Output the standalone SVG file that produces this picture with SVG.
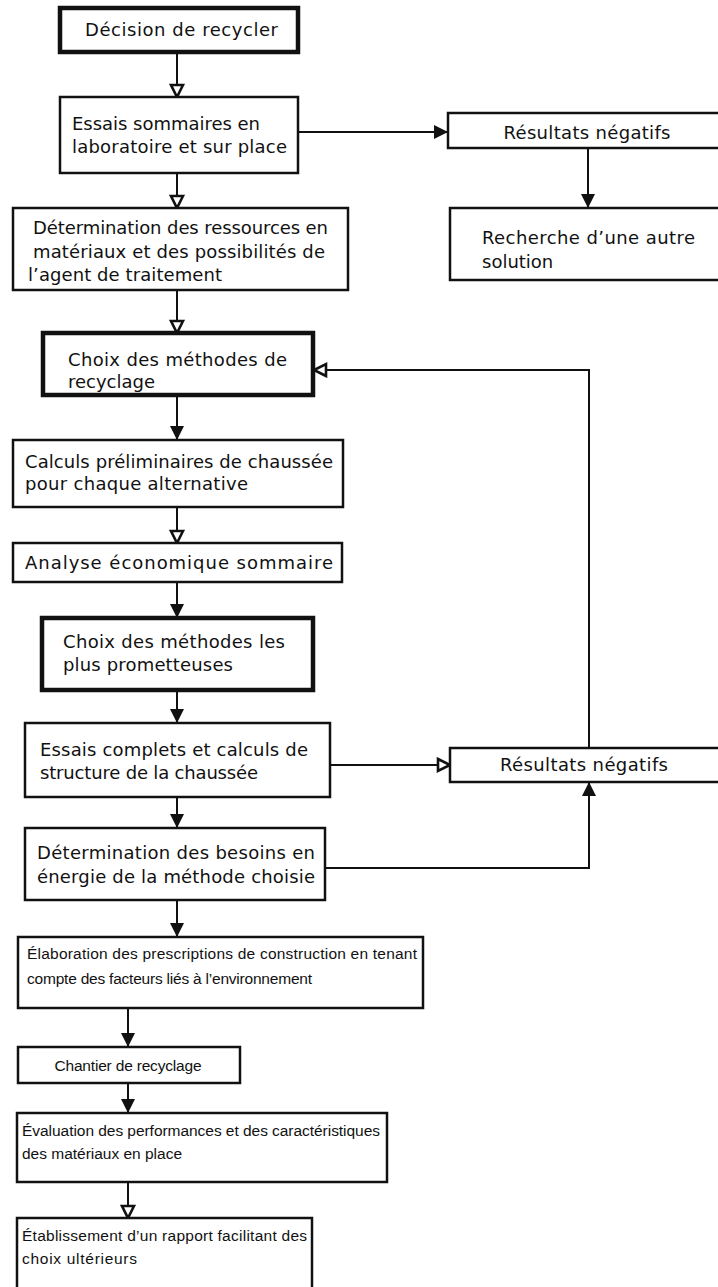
<svg xmlns="http://www.w3.org/2000/svg" width="718" height="1287" viewBox="0 0 718 1287">
<style>
.box{fill:#fff;stroke:#111;stroke-width:2.5}
.thick{fill:#fff;stroke:#111;stroke-width:4.5}
.t{font-family:"DejaVu Sans","Liberation Sans",sans-serif;font-size:18px;fill:#111}
.s{font-family:"Liberation Sans","DejaVu Sans",sans-serif;font-size:15.5px;fill:#111}
.c{text-anchor:middle}
.ln{fill:none;stroke:#111;stroke-width:2}
</style>
<defs>
<marker id="af" markerUnits="userSpaceOnUse" markerWidth="16" markerHeight="16" viewBox="0 0 16 16" refX="14" refY="7" orient="auto">
<path d="M0,0 L14,7 L0,14 Z" fill="#111"/>
</marker>
<marker id="ao" markerUnits="userSpaceOnUse" markerWidth="18" markerHeight="18" viewBox="-2 -2 18 18" refX="13" refY="7" orient="auto">
<path d="M1,1 L13,7 L1,13 Z" fill="#fff" stroke="#111" stroke-width="2.6" stroke-linejoin="miter"/>
</marker>
</defs>
<rect width="718" height="1287" fill="#fff"/>
<g id="connectors">
<line class="ln" x1="177" y1="52" x2="177" y2="97" marker-end="url(#ao)"/>
<line class="ln" x1="298" y1="132" x2="448" y2="132" marker-end="url(#af)"/>
<line class="ln" x1="588" y1="148" x2="588" y2="208" marker-end="url(#af)"/>
<line class="ln" x1="177" y1="173" x2="177" y2="208" marker-end="url(#ao)"/>
<line class="ln" x1="177" y1="290" x2="177" y2="333" marker-end="url(#ao)"/>
<polyline class="ln" points="589,748 589,370 314,370" marker-end="url(#ao)"/>
<line class="ln" x1="177" y1="395" x2="177" y2="440" marker-end="url(#af)"/>
<line class="ln" x1="177" y1="507" x2="177" y2="543" marker-end="url(#ao)"/>
<line class="ln" x1="177" y1="582" x2="177" y2="618" marker-end="url(#af)"/>
<line class="ln" x1="177" y1="690" x2="177" y2="723" marker-end="url(#af)"/>
<line class="ln" x1="330" y1="765" x2="450" y2="765" marker-end="url(#ao)"/>
<line class="ln" x1="177" y1="797" x2="177" y2="828" marker-end="url(#af)"/>
<polyline class="ln" points="325,868 589,868 589,782" marker-end="url(#af)"/>
<line class="ln" x1="177" y1="900" x2="177" y2="937" marker-end="url(#af)"/>
<line class="ln" x1="128" y1="1008" x2="128" y2="1047" marker-end="url(#af)"/>
<line class="ln" x1="128" y1="1083" x2="128" y2="1113" marker-end="url(#af)"/>
<line class="ln" x1="128" y1="1182" x2="128" y2="1218" marker-end="url(#ao)"/>
</g>
<g id="n1">
<rect class="thick" x="60" y="8" width="238" height="44"/>
<text class="t" x="85" y="36" textLength="193" lengthAdjust="spacing">Décision de recycler</text>
</g>
<g id="n2">
<rect class="box" x="60" y="97" width="238" height="76"/>
<text class="t" x="72" y="130" textLength="188" lengthAdjust="spacing">Essais sommaires en</text>
<text class="t" x="72" y="153" textLength="215" lengthAdjust="spacing">laboratoire et sur place</text>
</g>
<g id="r1">
<rect class="box" x="448" y="113" width="275" height="35"/>
<text class="t c" x="587" y="139" textLength="167" lengthAdjust="spacing">Résultats négatifs</text>
</g>
<g id="r1b">
<rect class="box" x="450" y="208" width="273" height="72"/>
<text class="t" x="482" y="244" textLength="213" lengthAdjust="spacing">Recherche d’une autre</text>
<text class="t" x="482" y="268">solution</text>
</g>
<g id="n3">
<rect class="box" x="13" y="208" width="335" height="82"/>
<text class="t" x="33" y="234" textLength="295" lengthAdjust="spacing">Détermination des ressources en</text>
<text class="t" x="33" y="258" textLength="292" lengthAdjust="spacing">matériaux et des possibilités de</text>
<text class="t" x="28" y="281" textLength="194" lengthAdjust="spacing">l’agent de traitement</text>
</g>
<g id="n4">
<rect class="thick" x="43" y="333" width="270" height="62"/>
<text class="t" x="68" y="366" textLength="219" lengthAdjust="spacing">Choix des méthodes de</text>
<text class="t" x="68" y="388" textLength="87" lengthAdjust="spacing">recyclage</text>
</g>
<g id="n5">
<rect class="box" x="13" y="440" width="330" height="67"/>
<text class="t" x="25" y="468" textLength="308" lengthAdjust="spacing">Calculs préliminaires de chaussée</text>
<text class="t" x="25" y="490" textLength="223" lengthAdjust="spacing">pour chaque alternative</text>
</g>
<g id="n6">
<rect class="box" x="13" y="543" width="329" height="39"/>
<text class="t" x="25" y="569" textLength="308" lengthAdjust="spacing">Analyse économique sommaire</text>
</g>
<g id="n7">
<rect class="thick" x="42" y="618" width="271" height="72"/>
<text class="t" x="63" y="648" textLength="222" lengthAdjust="spacing">Choix des méthodes les</text>
<text class="t" x="63" y="671" textLength="170" lengthAdjust="spacing">plus prometteuses</text>
</g>
<g id="n8">
<rect class="box" x="25" y="723" width="305" height="74"/>
<text class="t" x="40" y="756" textLength="268" lengthAdjust="spacing">Essais complets et calculs de</text>
<text class="t" x="40" y="779" textLength="218" lengthAdjust="spacing">structure de la chaussée</text>
</g>
<g id="r2">
<rect class="box" x="450" y="748" width="273" height="34"/>
<text class="t c" x="584" y="771" textLength="168" lengthAdjust="spacing">Résultats négatifs</text>
</g>
<g id="n9">
<rect class="box" x="25" y="828" width="300" height="72"/>
<text class="t" x="37" y="859" textLength="278" lengthAdjust="spacing">Détermination des besoins en</text>
<text class="t" x="37" y="883" textLength="278" lengthAdjust="spacing">énergie de la méthode choisie</text>
</g>
<g id="n10">
<rect class="box" x="18" y="937" width="405" height="71"/>
<text class="s" x="27" y="959" textLength="390" lengthAdjust="spacing">Élaboration des prescriptions de construction en tenant</text>
<text class="s" x="27" y="984" textLength="285" lengthAdjust="spacing">compte des facteurs liés à l’environnement</text>
</g>
<g id="n11">
<rect class="box" x="18" y="1047" width="222" height="36"/>
<text class="s c" x="128" y="1071" textLength="147" lengthAdjust="spacing">Chantier de recyclage</text>
</g>
<g id="n12">
<rect class="box" x="17" y="1113" width="370" height="69"/>
<text class="s" x="22" y="1136" textLength="358" lengthAdjust="spacing">Évaluation des performances et des caractéristiques</text>
<text class="s" x="22" y="1159" textLength="160" lengthAdjust="spacing">des matériaux en place</text>
</g>
<g id="n13">
<rect class="box" x="17" y="1218" width="295" height="80"/>
<text class="s" x="22" y="1241" textLength="285" lengthAdjust="spacing">Établissement d’un rapport facilitant des</text>
<text class="s" x="22" y="1264" textLength="115" lengthAdjust="spacing">choix ultérieurs</text>
</g>
</svg>
